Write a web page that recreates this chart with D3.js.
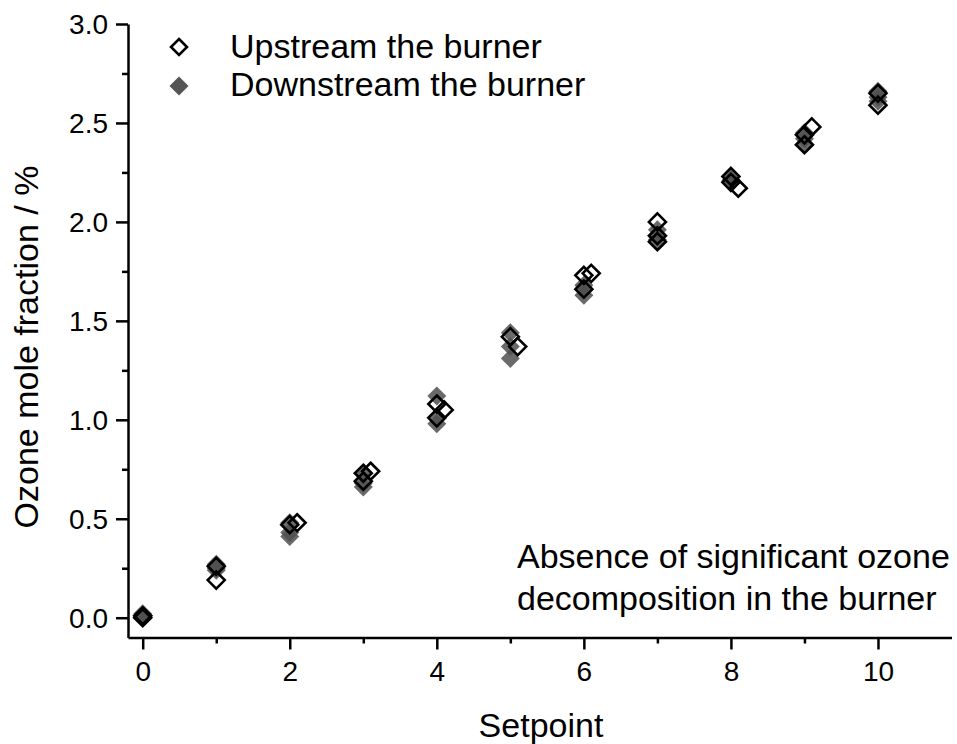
<!DOCTYPE html>
<html><head><meta charset="utf-8">
<script src="https://cdn.jsdelivr.net/npm/d3@7"></script>
<style>body{margin:0;background:#fff}svg{display:block;font-family:Arial,"Liberation Sans",sans-serif}</style>
</head><body><svg id="c" width="957" height="744"></svg>
<script>
const upX = [0,0,1,1,2,2.1,3,3,3.1,4,4,4.1,5,5.1,6,6.1,6,7,7,7,8,8,8.1,9,9,9.1,10,10];
const upY = [0.01,0.0,0.19,0.26,0.47,0.48,0.73,0.69,0.74,1.08,1.01,1.05,1.42,1.37,1.73,1.74,1.66,2.00,1.90,1.93,2.23,2.20,2.17,2.44,2.39,2.48,2.65,2.59];
const downX = [0,0,0,1,1,1,2,2,2,3,3,3,4,4,4,5,5,5,6,6,6,7,7,7,8,8,8,9,9,9,10,10,10];
const downY = [0.02,0.0,0.01,0.25,0.27,0.24,0.48,0.43,0.41,0.73,0.68,0.66,1.12,1.01,0.98,1.44,1.37,1.31,1.68,1.66,1.63,1.96,1.93,1.91,2.23,2.20,2.21,2.45,2.42,2.39,2.66,2.61,2.63];
const xMajor = [0,2,4,6,8,10];
const xMinor = [1,3,5,7,9];
const yMajor = [0,0.5,1,1.5,2,2.5,3];
const yMinor = [0.25,0.75,1.25,1.75,2.25,2.75];
const seriesNames = ["Upstream the burner","Downstream the burner"];
const noteLines = ["Absence of significant ozone","decomposition in the burner"];

const svg = d3.select("#c");
const x = d3.scaleLinear().domain([-0.2,11]).range([128,951.5]);
const y = d3.scaleLinear().domain([-0.1,3.0]).range([637.5,24]);
const diamond = r => `M0,${-r}L${r},0L0,${r}L${-r},0Z`;

// axes
const xAxis = svg.append("g").attr("transform","translate(0,637.5)");
xAxis.call(d3.axisBottom(x).tickValues(xMajor).tickSize(12).tickSizeOuter(0).tickFormat(d3.format("d")));
const xMin = svg.append("g").attr("transform","translate(0,637.5)");
xMin.call(d3.axisBottom(x).tickValues(xMinor).tickSize(6).tickSizeOuter(0).tickFormat(""));
xMin.select(".domain").remove();
const yAxis = svg.append("g").attr("transform","translate(128,0)");
yAxis.call(d3.axisLeft(y).tickValues(yMajor).tickSize(12).tickSizeOuter(0).tickFormat(d3.format(".1f")));
const yMin = svg.append("g").attr("transform","translate(128,0)");
yMin.call(d3.axisLeft(y).tickValues(yMinor).tickSize(6).tickSizeOuter(0).tickFormat(""));
yMin.select(".domain").remove();
svg.selectAll(".domain, .tick line").attr("stroke","#000").attr("stroke-width",2.5);
xAxis.selectAll(".tick text").attr("font-size",28).attr("font-family","Arial, 'Liberation Sans', sans-serif").attr("fill","#000").attr("dy","0").attr("y",43);
yAxis.selectAll(".tick text").attr("font-size",28).attr("font-family","Arial, 'Liberation Sans', sans-serif").attr("fill","#000").attr("x",-20).attr("dy","0.35em");

// data: downstream filled gray
svg.append("g").selectAll("path").data(downX.map((d,i)=>[d,downY[i]])).join("path")
  .attr("d",diamond(9.5)).attr("transform",d=>`translate(${x(d[0])},${y(d[1])})`)
  .attr("fill","#505050").attr("fill-opacity",0.85);
// upstream open
svg.append("g").selectAll("path").data(upX.map((d,i)=>[d,upY[i]])).join("path")
  .attr("d",diamond(8.5)).attr("transform",d=>`translate(${x(d[0])},${y(d[1])})`)
  .attr("fill","none").attr("stroke","#000").attr("stroke-width",2.6);

// legend
const lg = svg.append("g");
lg.append("path").attr("d",diamond(8)).attr("transform","translate(179,47)").attr("fill","#fff").attr("stroke","#000").attr("stroke-width",2.6);
lg.append("path").attr("d",diamond(9.5)).attr("transform","translate(179,86)").attr("fill","#555");
lg.selectAll("text").data(seriesNames).join("text").attr("x",230).attr("y",(d,i)=>58+i*38)
  .attr("font-size",34).attr("fill","#000").text(d=>d);

// annotation
svg.append("g").selectAll("text").data(noteLines).join("text").attr("x",517).attr("y",(d,i)=>568+i*42)
  .attr("font-size",34).attr("fill","#000").text(d=>d);

// axis titles
svg.append("text").attr("x",541).attr("y",737).attr("text-anchor","middle").attr("font-size",34).attr("fill","#000").text("Setpoint");
svg.append("text").attr("transform","translate(38,347) rotate(-90)").attr("text-anchor","middle").attr("font-size",34).attr("fill","#000").text("Ozone mole fraction / %");
</script></body></html>
